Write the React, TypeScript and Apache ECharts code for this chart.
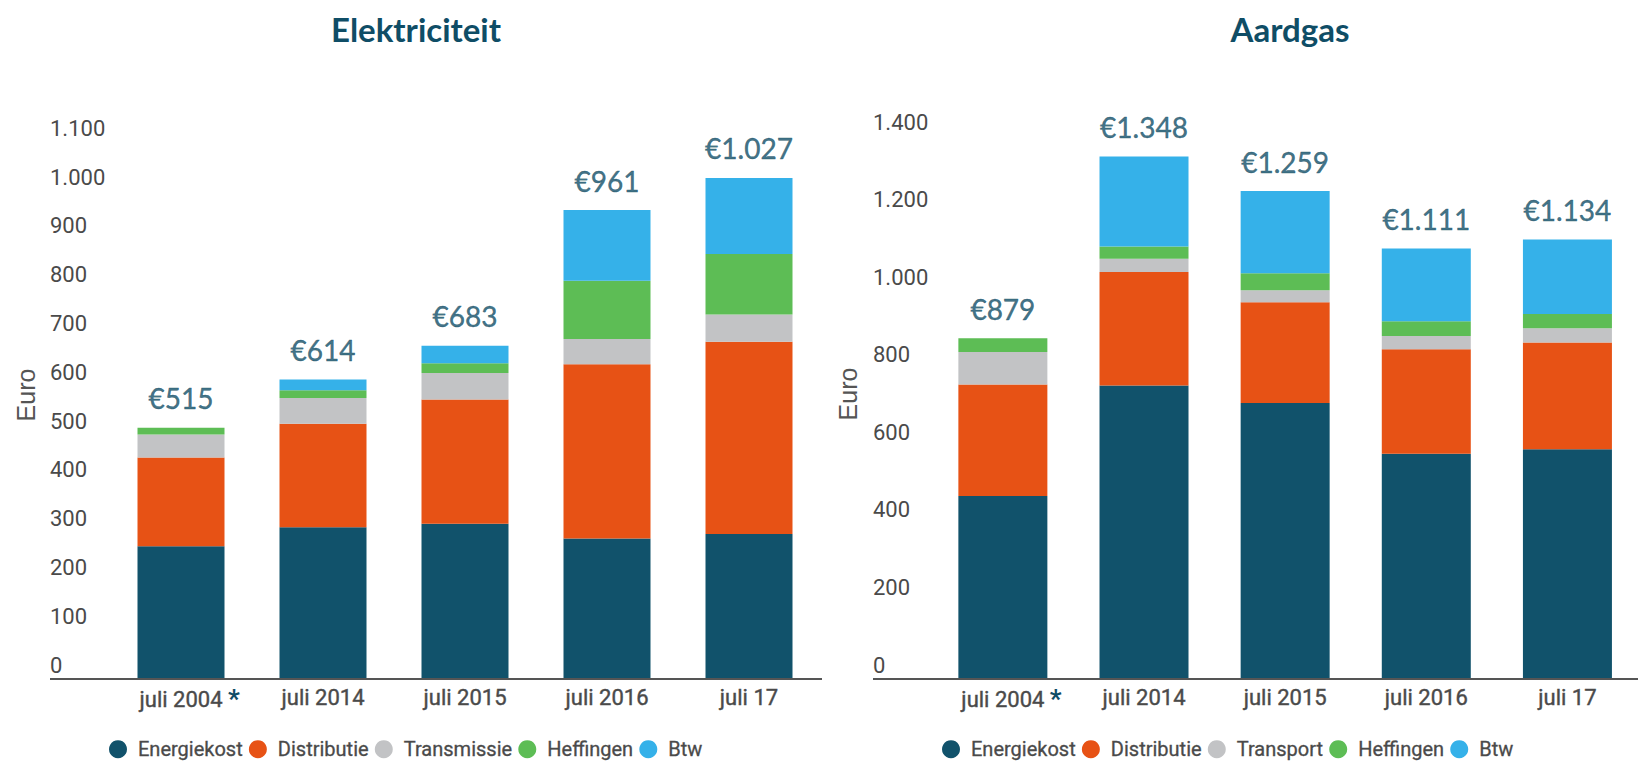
import React, { useEffect, useRef } from 'react';
import * as echarts from 'echarts';

// ---------- data ----------
const categories = ['juli 2004', 'juli 2014', 'juli 2015', 'juli 2016', 'juli 17'];
const footnoteCategory = 'juli 2004';

const elecLegend = ['Energiekost', 'Distributie', 'Transmissie', 'Heffingen', 'Btw'];
const elecEnergiekost = [272, 311, 318, 288, 297];
const elecDistributie = [182, 212, 255, 357, 394];
const elecTransmissie = [47, 53, 54, 52, 56];
const elecHeffingen = [14, 16, 20, 119, 124];
const elecBtw = [0, 22, 36, 145, 156];
const elecTotals = [515, 614, 683, 961, 1027];

const gasLegend = ['Energiekost', 'Distributie', 'Transport', 'Heffingen', 'Btw'];
const gasEnergiekost = [472, 757, 712, 581, 593];
const gasDistributie = [288, 293, 260, 270, 275];
const gasTransport = [84, 34, 31, 34, 37];
const gasHeffingen = [35, 32, 44, 38, 37];
const gasBtw = [0, 232, 212, 188, 192];
const gasTotals = [879, 1348, 1259, 1111, 1134];

const elecAxis = { min: 0, max: 1100, interval: 100 };
const gasAxis = { min: 0, max: 1400, interval: 200 };

// ---------- style ----------
const COLORS = ['#11526b', '#e75215', '#c2c3c5', '#5dbd55', '#35b1e9'];
const TEAL = '#0f4d66';
const GREY_TEXT = '#4a4a4a';

function fmt(v: number): string {
  return String(Math.round(v)).replace(/\B(?=(\d{3})+(?!\d))/g, '.');
}

function barSeries(names: string[], values: number[][], idx: number, stack: string, barWidth: number) {
  return names.map((name, i) => ({
    type: 'bar',
    name,
    stack,
    xAxisIndex: idx,
    yAxisIndex: idx,
    data: values[i],
    barWidth,
    itemStyle: { color: COLORS[i] },
    emphasis: { disabled: true },
  }));
}

function totalSeries(totals: number[], idx: number) {
  return {
    type: 'scatter',
    name: 'Totaal' + idx,
    xAxisIndex: idx,
    yAxisIndex: idx,
    data: totals,
    symbolSize: 1,
    itemStyle: { color: 'rgba(0,0,0,0)' },
    silent: true,
    z: 5,
    label: {
      show: true,
      position: 'top',
      distance: 15,
      formatter: (p: any) => '€' + fmt(p.value),
      fontFamily: 'Lato',
      fontSize: 28,
      color: TEAL,
      textBorderColor: TEAL,
      textBorderWidth: 0.4,
    },
  };
}

function xAxisCfg(idx: number) {
  return {
    gridIndex: idx,
    type: 'category',
    data: categories,
    axisLine: { show: false },
    axisTick: { show: false },
    axisLabel: {
      interval: 0,
      margin: 7,
      fontSize: 22,
      fontFamily: 'Roboto',
      fontWeight: 'normal',
      color: GREY_TEXT,
      textBorderColor: GREY_TEXT,
      textBorderWidth: 0.4,
      formatter: (v: string) => (v === footnoteCategory ? `{ghost|*} ${v} {star|*}` : v),
      rich: {
        ghost: {
          fontSize: 26,
          fontWeight: 'bold',
          fontFamily: 'Roboto',
          color: 'rgba(0,0,0,0)',
          textBorderColor: 'rgba(0,0,0,0)',
          textBorderWidth: 0,
        },
        star: {
          fontSize: 26,
          fontWeight: 'bold',
          fontFamily: 'Roboto',
          color: TEAL,
          textBorderColor: TEAL,
          textBorderWidth: 0,
        },
      },
    },
  };
}

function yAxisCfg(idx: number, ax: { min: number; max: number; interval: number }, margin: number) {
  return {
    gridIndex: idx,
    type: 'value',
    min: ax.min,
    max: ax.max,
    interval: ax.interval,
    splitLine: { show: false },
    axisLine: { show: false },
    axisTick: { show: false },
    axisLabel: {
      align: 'left',
      verticalAlign: 'bottom',
      margin,
      padding: [0, 0, 3, 0],
      lineHeight: 22,
      fontSize: 22,
      fontFamily: 'Roboto',
      color: GREY_TEXT,
      formatter: (v: number) => fmt(v),
    },
  };
}

function legendCfg(data: string[], left: number) {
  return {
    data,
    left,
    top: 739,
    orient: 'horizontal',
    icon: 'circle',
    itemWidth: 30,
    itemHeight: 18,
    itemGap: 6,
    padding: 0,
    selectedMode: false,
    textStyle: {
      fontSize: 20,
      lineHeight: 18,
      fontFamily: 'Roboto',
      color: GREY_TEXT,
      textBorderColor: GREY_TEXT,
      textBorderWidth: 0.3,
    },
  };
}

const option: any = {
  animation: false,
  backgroundColor: '#ffffff',
  title: [
    {
      text: 'Elektriciteit',
      left: 416,
      top: 12,
      textAlign: 'center',
      padding: 0,
      textStyle: { fontFamily: 'Lato', fontWeight: 'bold', fontSize: 33, color: TEAL },
    },
    {
      text: 'Aardgas',
      left: 1290,
      top: 12,
      textAlign: 'center',
      padding: 0,
      textStyle: { fontFamily: 'Lato', fontWeight: 'bold', fontSize: 33, color: TEAL },
    },
  ],
  legend: [legendCfg(elecLegend, 109), legendCfg(gasLegend, 942)],
  grid: [
    { left: 110, top: 142.3, width: 710, bottom: 82 },
    { left: 932.3, top: 136.4, width: 718.5, bottom: 82 },
  ],
  xAxis: [xAxisCfg(0), xAxisCfg(1)],
  yAxis: [yAxisCfg(0, elecAxis, 60), yAxisCfg(1, gasAxis, 59.3)],
  series: [
    ...barSeries(
      elecLegend,
      [elecEnergiekost, elecDistributie, elecTransmissie, elecHeffingen, elecBtw],
      0,
      'elec',
      87
    ),
    totalSeries(elecTotals, 0),
    ...barSeries(
      gasLegend,
      [gasEnergiekost, gasDistributie, gasTransport, gasHeffingen, gasBtw],
      1,
      'gas',
      89
    ),
    totalSeries(gasTotals, 1),
  ],
  graphic: [
    {
      type: 'line',
      shape: { x1: 50, y1: 679, x2: 822, y2: 679 },
      style: { stroke: '#555555', lineWidth: 2 },
      z: 10,
    },
    {
      type: 'line',
      shape: { x1: 873, y1: 679, x2: 1638, y2: 679 },
      style: { stroke: '#555555', lineWidth: 2 },
      z: 10,
    },
    {
      type: 'text',
      x: 26,
      y: 395,
      rotation: Math.PI / 2,
      style: {
        text: 'Euro',
        align: 'center',
        verticalAlign: 'middle',
        fontFamily: 'Liberation Sans',
        fontSize: 25,
        fill: '#555555',
      },
    },
    {
      type: 'text',
      x: 848,
      y: 394,
      rotation: Math.PI / 2,
      style: {
        text: 'Euro',
        align: 'center',
        verticalAlign: 'middle',
        fontFamily: 'Liberation Sans',
        fontSize: 25,
        fill: '#555555',
      },
    },
  ],
};

export default function App() {
  const ref = useRef<HTMLDivElement>(null);
  useEffect(() => {
    document.body.style.margin = '0';
    const chart = echarts.init(ref.current as HTMLDivElement, null, { renderer: 'svg' });
    chart.setOption(option);
    return () => chart.dispose();
  }, []);
  return <div ref={ref} style={{ width: 1638, height: 761 }} />;
}
